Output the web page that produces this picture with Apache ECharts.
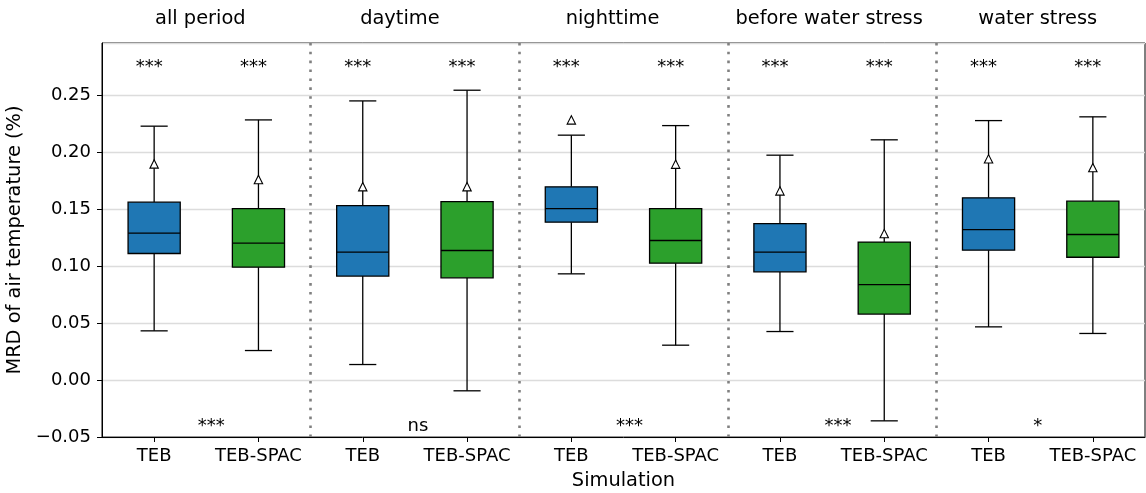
<!DOCTYPE html>
<html>
<head>
<meta charset="utf-8">
<script src="https://cdn.jsdelivr.net/npm/echarts@6/dist/echarts.min.js"></script>
<style>
html,body{margin:0;padding:0;background:#fff;}
#chart{width:1146px;height:493px;}
</style>
</head>
<body>
<div id="chart"></div>
<script>
// ---- data ----
const categories = ['TEB','TEB-SPAC','TEB','TEB-SPAC','TEB','TEB-SPAC','TEB','TEB-SPAC','TEB','TEB-SPAC'];
const groups = ['all period','daytime','nighttime','before water stress','water stress'];
const whiskerLow  = [0.0433, 0.0260, 0.0137, -0.0094, 0.0934, 0.0307, 0.0427, -0.0358, 0.0468, 0.0410];
const q1          = [0.1113, 0.0993, 0.0914, 0.0899, 0.1388, 0.1028, 0.0952, 0.0580, 0.1142, 0.1080];
const median      = [0.1292, 0.1204, 0.1125, 0.1139, 0.1508, 0.1227, 0.1125, 0.0840, 0.1323, 0.1280];
const q3          = [0.1564, 0.1508, 0.1534, 0.1569, 0.1699, 0.1508, 0.1376, 0.1213, 0.1602, 0.1573];
const whiskerHigh = [0.2232, 0.2287, 0.2454, 0.2548, 0.2153, 0.2237, 0.1977, 0.2112, 0.2281, 0.2314];
const meanValue   = [0.1900, 0.1763, 0.1700, 0.1700, 0.2287, 0.1898, 0.1663, 0.1288, 0.1945, 0.1868];
const boxSignificance = ['***','***','***','***','***','***','***','***','***','***'];
const groupSignificance = ['***','ns','***','***','*'];
const yTicks = [-0.05, 0.00, 0.05, 0.10, 0.15, 0.20, 0.25];

// ---- layout / style ----
const FONT = 'DejaVu Sans';
const colors = ['#1f77b4', '#2ca02c'];
const Y_MIN = -0.05, Y_MAX = 0.2963;
const titleOffsets = [-6, -15, -11, -3, -3];
const groupSigOffsets = [5, 3, 6, 6, -3];

const chart = echarts.init(document.getElementById('chart'), null, {renderer: 'canvas'});

const boxData = categories.map((c, i) => [i, whiskerLow[i], q1[i], median[i], q3[i], whiskerHigh[i], meanValue[i]]);

function renderBox(params, api) {
  const i = api.value(0);
  const pLow = api.coord([i, api.value(1)]);
  const pQ1 = api.coord([i, api.value(2)]);
  const pMed = api.coord([i, api.value(3)]);
  const pQ3 = api.coord([i, api.value(4)]);
  const pHigh = api.coord([i, api.value(5)]);
  const pMean = api.coord([i, api.value(6)]);
  const band = api.size([1, 0])[0];
  const bw = band * 0.5;
  const cw = bw * 0.52;
  const cx = pMed[0];
  const ls = {stroke: '#000', lineWidth: 1.3};
  const tri = 4.2;
  return {
    type: 'group',
    children: [
      {type: 'line', shape: {x1: cx, y1: pLow[1], x2: cx, y2: pQ1[1]}, style: ls},
      {type: 'line', shape: {x1: cx, y1: pQ3[1], x2: cx, y2: pHigh[1]}, style: ls},
      {type: 'line', shape: {x1: cx - cw/2, y1: pLow[1], x2: cx + cw/2, y2: pLow[1]}, style: ls},
      {type: 'line', shape: {x1: cx - cw/2, y1: pHigh[1], x2: cx + cw/2, y2: pHigh[1]}, style: ls},
      {type: 'rect', shape: {x: cx - bw/2, y: pQ3[1], width: bw, height: pQ1[1] - pQ3[1]},
        style: {fill: colors[i % 2], stroke: '#000', lineWidth: 1.3}},
      {type: 'line', shape: {x1: cx - bw/2, y1: pMed[1], x2: cx + bw/2, y2: pMed[1]}, style: ls},
      {type: 'polygon', shape: {points: [[pMean[0], pMean[1] - tri], [pMean[0] - tri, pMean[1] + tri], [pMean[0] + tri, pMean[1] + tri]]},
        style: {fill: '#fff', stroke: '#000', lineWidth: 1.1}}
    ]
  };
}

const boxSigData = boxSignificance.map((s, i) => ({value: [i, 0.2745], label: {formatter: s, offset: [-5, 0]}}));
const groupSigData = groupSignificance.map((s, g) => ({value: [2 * g + 0.5, -0.0405], label: {formatter: s, offset: [groupSigOffsets[g], 0]}}));
const titleData = groups.map((t, g) => ({value: [2 * g + 0.5, 0.3170], label: {formatter: t, offset: [titleOffsets[g], 0]}}));

const labelSeries = (data, size, extra) => Object.assign({
  type: 'scatter', xAxisIndex: 1, symbolSize: 0, silent: true, clip: false, z: 6,
  itemStyle: {opacity: 1},
  data: data,
  label: {show: true, position: 'inside', fontFamily: FONT, fontSize: size, color: '#000', opacity: 1}
}, extra || {});

const option = {
  animation: false,
  backgroundColor: '#fff',
  grid: {left: 102, right: 1, top: 43, bottom: 56, containLabel: false, outerBoundsMode: 'none',
    show: true, borderColor: '#000', borderWidth: 1, backgroundColor: 'transparent'},
  xAxis: [
    {
      type: 'category', data: categories, boundaryGap: true,
      axisLine: {show: true, onZero: false, lineStyle: {color: '#000', width: 1}},
      axisTick: {show: true, alignWithLabel: true, length: 5, lineStyle: {color: '#000'}},
      axisLabel: {fontFamily: FONT, fontSize: 18, color: '#000', margin: 10, interval: 0},
      splitLine: {show: false},
      name: 'Simulation', nameLocation: 'middle', nameGap: 34,
      nameTextStyle: {fontFamily: FONT, fontSize: 19.4, color: '#000'}
    },
    {type: 'value', min: -0.5, max: 9.5, show: false, axisLine: {onZero: false}}
  ],
  yAxis: {
    type: 'value', min: Y_MIN, max: Y_MAX, interval: 0.05,
    axisLine: {show: true, onZero: false, lineStyle: {color: '#000', width: 1}},
    axisTick: {show: true, length: 5, lineStyle: {color: '#000'}},
    axisLabel: {
      fontFamily: FONT, fontSize: 18, color: '#000', margin: 11, showMaxLabel: false,
      formatter: v => {
        const m = yTicks.find(t => Math.abs(t - v) < 1e-6);
        if (m === undefined) return '';
        return m < 0 ? '\u2212' + Math.abs(m).toFixed(2) : m.toFixed(2);
      }
    },
    splitLine: {show: true, lineStyle: {color: '#dcdcdc', width: 1.3}},
    name: 'MRD of air temperature (%)', nameLocation: 'middle', nameGap: 69, nameRotate: 90,
    nameTextStyle: {fontFamily: FONT, fontSize: 19.4, color: '#000'}
  },
  series: [
    {
      type: 'custom', xAxisIndex: 0, yAxisIndex: 0,
      renderItem: renderBox, data: boxData, clip: false, z: 5
    },
    labelSeries(boxSigData, 18, {
      markLine: {
        silent: true, symbol: ['none', 'none'], label: {show: false},
        lineStyle: {color: '#808080', width: 2.6, type: [2.6, 6.3]},
        data: [{xAxis: 1.5}, {xAxis: 3.5}, {xAxis: 5.5}, {xAxis: 7.5}]
      }
    }),
    labelSeries(groupSigData, 18),
    labelSeries(titleData, 19.4)
  ]
};
chart.setOption(option);
</script>
</body>
</html>
